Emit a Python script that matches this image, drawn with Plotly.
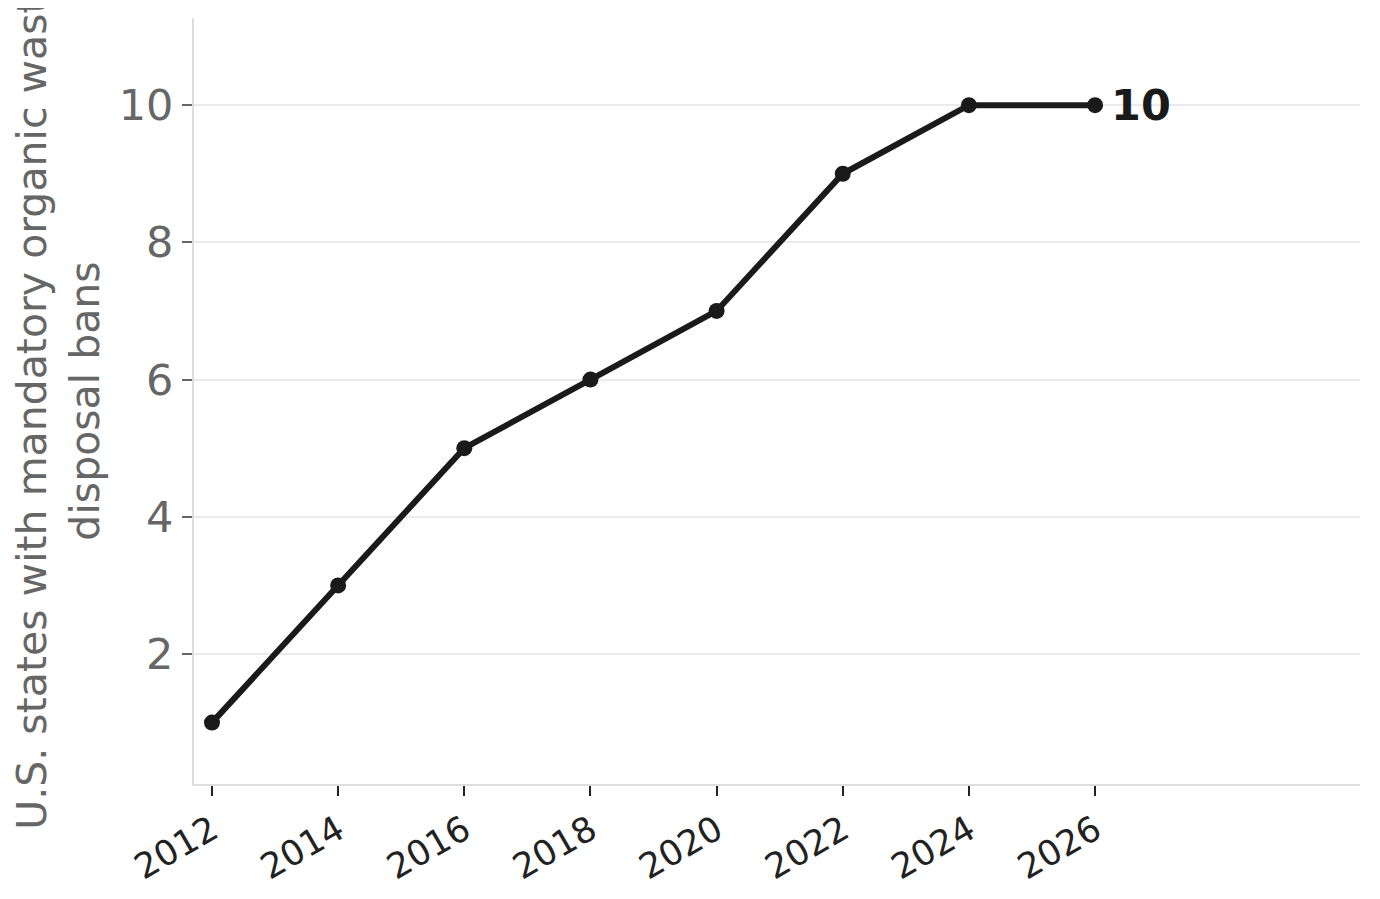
import plotly.graph_objects as go

# states with organic waste disposal bans, by year
years = [2012, 2014, 2016, 2018, 2020, 2022, 2024, 2026]
states = [1, 3, 5, 6, 7, 9, 10, 10]

x_ticks = [2012, 2014, 2016, 2018, 2020, 2022, 2024, 2026]
y_ticks = [2, 4, 6, 8, 10]

ink = "#1a1a1a"
grey = "#666666"

fig = go.Figure()
fig.add_trace(go.Scatter(
    x=years, y=states,
    mode="lines+markers",
    line=dict(color=ink, width=6),
    marker=dict(color=ink, size=16),
    showlegend=False,
    hoverinfo="x+y",
))

# label the last point
fig.add_annotation(
    x=years[-1], y=states[-1],
    text="<b>%d</b>" % states[-1],
    showarrow=False, xanchor="left", xshift=14,
    font=dict(size=43, color=ink, family="DejaVu Sans"),
)

fig.update_layout(
    width=1380, height=899,
    margin=dict(l=186, r=28, t=10, b=123),
    plot_bgcolor="white", paper_bgcolor="white",
    font=dict(family="DejaVu Sans"),
)

fig.update_xaxes(
    range=[2011.715, 2030.2],
    tickvals=x_ticks, ticktext=[str(t) for t in x_ticks],
    tickangle=-30,
    tickfont=dict(size=35, color="#222222"),
    ticks="outside", ticklen=10, tickwidth=2, tickcolor="#222222",
    showgrid=False, zeroline=False,
    showline=True, linecolor="#dddddd", linewidth=2,
)

fig.update_yaxes(
    range=[0.105, 11.27],
    tickvals=y_ticks,
    tickfont=dict(size=43, color=grey),
    ticks="outside", ticklen=10, tickwidth=2, tickcolor=grey,
    showgrid=True, gridcolor="#ebebeb", gridwidth=2,
    zeroline=False,
    showline=True, linecolor="#dddddd", linewidth=2,
    title=dict(
        text="U.S. states with mandatory organic waste<br>disposal bans",
        font=dict(size=41, color=grey),
        standoff=16,
    ),
)

fig.write_html("out.html")
